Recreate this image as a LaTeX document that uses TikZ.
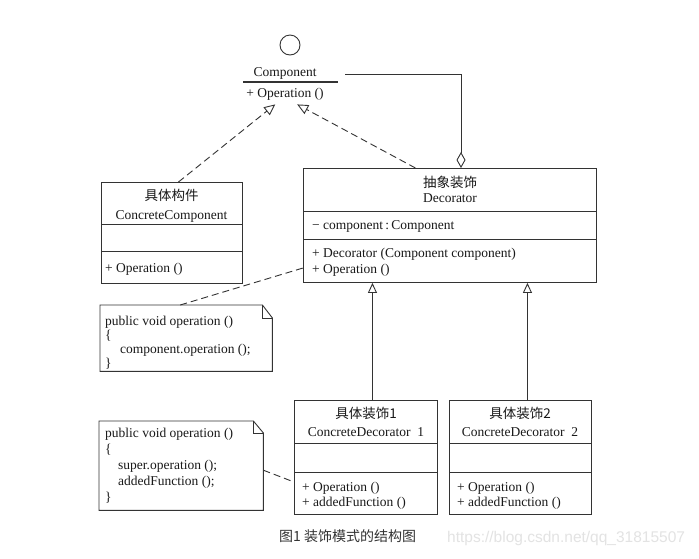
\documentclass[tikz,border=0pt]{standalone}
\usepackage{fontspec}
\setmainfont{Liberation Serif}
\newfontfamily\cjk{Noto Sans CJK SC}
\newfontfamily\wmfont{Liberation Sans}
\usetikzlibrary{arrows.meta,positioning}

\begin{document}
\begin{tikzpicture}[x=1pt,y=-1pt,
   line/.style={draw=black!80,line width=0.9pt},
   box/.style={line,anchor=north west,inner sep=0pt},
   txt/.style={inner sep=0pt,anchor=base,font=\fontsize{13.5}{16}\selectfont,text=black!90},
   ltxt/.style={txt,anchor=base west},
   realize/.style={line,dash pattern=on 7pt off 4pt,-{Triangle[open,fill=white,length=11pt,width=10pt]}},
   inherit/.style={line,-{Triangle[open,fill=white,length=10pt,width=9pt]}},
   aggr/.style={line,-{Diamond[open,fill=white,length=16pt,width=9pt]}},
   link/.style={line,dash pattern=on 7pt off 4pt}]
   \fill[white] (0,0) rectangle (699,558);
   \useasboundingbox (0,0) rectangle (699,558);

   % interface
   \node[inner sep=0pt,minimum width=95,minimum height=42,anchor=north west] (component) at (243,62) {};
   \node[line,circle,minimum size=20pt,inner sep=0pt] (lollipop) at (290,45) {};
   \node[txt] (compName) at (285,76.5) {Component};
   \draw[line,line width=1.1pt] (component.west |- 0,82) -- (component.east |- 0,82);
   \node[txt] (compOp) at (285,97.5) {+ Operation ()};

   % concrete component
   \node[box,minimum width=141,minimum height=101] (concrete) at (101,182) {};
   \draw[line] (concrete.west |- 0,224) -- (concrete.east |- 0,224);
   \draw[line] (concrete.west |- 0,251) -- (concrete.east |- 0,251);
   \node[txt] (concreteCn) at (171.5,200.5) {\cjk 具体构件};
   \node[txt] (concreteEn) at (171.5,219.5) {ConcreteComponent};
   \node[ltxt] (concreteOp) at (105,272.5) {+ Operation ()};

   % decorator
   \node[box,minimum width=293,minimum height=114] (decorator) at (303,168) {};
   \draw[line] (decorator.west |- 0,211) -- (decorator.east |- 0,211);
   \draw[line] (decorator.west |- 0,239) -- (decorator.east |- 0,239);
   \node[txt] (decoratorCn) at (450,187.5) {\cjk 抽象装饰};
   \node[txt] (decoratorEn) at (450,202.5) {Decorator};
   \node[ltxt] (decoratorAttr) at (312,229.5) {− component\,:\,Component};
   \node[ltxt] (decoratorCtor) at (312,257.5) {+ Decorator (Component component)};
   \node[ltxt] (decoratorOp) at (312,273.5) {+ Operation ()};

   % concrete decorators
   \node[box,minimum width=143,minimum height=114] (cdec1) at (294,400) {};
   \draw[line] (cdec1.west |- 0,443) -- (cdec1.east |- 0,443);
   \draw[line] (cdec1.west |- 0,472) -- (cdec1.east |- 0,472);
   \node[txt] (cdec1Cn) at (366,418.5) {\cjk 具体装饰1};
   \node[txt] (cdec1En) at (366,436.5) {ConcreteDecorator\ \ 1};
   \node[ltxt] (cdec1Op) at (302,491.5) {+ Operation ()};
   \node[ltxt] (cdec1Fn) at (302,506.5) {+ addedFunction ()};

   \node[box,minimum width=142,minimum height=114] (cdec2) at (449,400) {};
   \draw[line] (cdec2.west |- 0,443) -- (cdec2.east |- 0,443);
   \draw[line] (cdec2.west |- 0,472) -- (cdec2.east |- 0,472);
   \node[txt] (cdec2Cn) at (520,418.5) {\cjk 具体装饰2};
   \node[txt] (cdec2En) at (520,436.5) {ConcreteDecorator\ \ 2};
   \node[ltxt] (cdec2Op) at (457,491.5) {+ Operation ()};
   \node[ltxt] (cdec2Fn) at (457,506.5) {+ addedFunction ()};

   % notes
   \node[inner sep=0pt,minimum width=172,minimum height=66,anchor=north west] (note1) at (100,305) {};
   \draw[line] (note1.north west) -- ([xshift=-10pt]note1.north east) -- ([yshift=-13pt]note1.north east)
      -- (note1.south east) -- (note1.south west) -- cycle;
   \draw[line] ([xshift=-10pt]note1.north east) -- ([xshift=-10pt,yshift=-13pt]note1.north east)
      -- ([yshift=-13pt]note1.north east);
   \node[ltxt] (note1a) at (105,325) {public void operation ()};
   \node[ltxt] (note1b) at (105,339) {\{};
   \node[ltxt] (note1c) at (120,353) {component.operation ();};
   \node[ltxt] (note1d) at (105,367) {\}};

   \node[inner sep=0pt,minimum width=164,minimum height=89,anchor=north west] (note2) at (99,421) {};
   \draw[line] (note2.north west) -- ([xshift=-10pt]note2.north east) -- ([yshift=-12pt]note2.north east)
      -- (note2.south east) -- (note2.south west) -- cycle;
   \draw[line] ([xshift=-10pt]note2.north east) -- ([xshift=-10pt,yshift=-12pt]note2.north east)
      -- ([yshift=-12pt]note2.north east);
   \node[ltxt] (note2a) at (105,437.5) {public void operation ()};
   \node[ltxt] (note2b) at (105,453) {\{};
   \node[ltxt] (note2c) at (118,469) {super.operation ();};
   \node[ltxt] (note2d) at (118,485) {addedFunction ();};
   \node[ltxt] (note2e) at (105,501) {\}};

   % connectors
   \draw[realize] ([xshift=6.5pt]concrete.north) -- ([xshift=-15.5pt]component.south);
   \draw[realize] ([xshift=-34.5pt]decorator.north) -- ([xshift=6.5pt]component.south);
   \coordinate (aggStart) at (345,74);
   \coordinate (aggCorner) at (461,74);
   \draw[aggr] (aggStart) -- (aggCorner) -- (aggCorner |- decorator.north);
   \coordinate (inh1) at ([xshift=6.5pt]cdec1.north);
   \coordinate (inh2) at ([xshift=7pt]cdec2.north);
   \draw[inherit] (inh1) -- (inh1 |- decorator.south);
   \draw[inherit] (inh2) -- (inh2 |- decorator.south);
   \draw[link] ([xshift=-6pt]note1.north) -- (decorator.west |- 0,268);
   \draw[link] ([yshift=-4.5pt]note2.east) -- (cdec1.west |- 0,482);

   % caption
   \node[inner sep=0pt,anchor=base west,font=\cjk\fontsize{14}{16}\selectfont,text=black!80] (caption) at (279,541.5) {图1 装饰模式的结构图};
   \node[inner sep=0pt,anchor=base west,font=\wmfont\fontsize{15.5}{17}\selectfont,text=black!11] (watermark) at (447,542) {https://blog.csdn.net/qq\_31815507};
\end{tikzpicture}
\end{document}
